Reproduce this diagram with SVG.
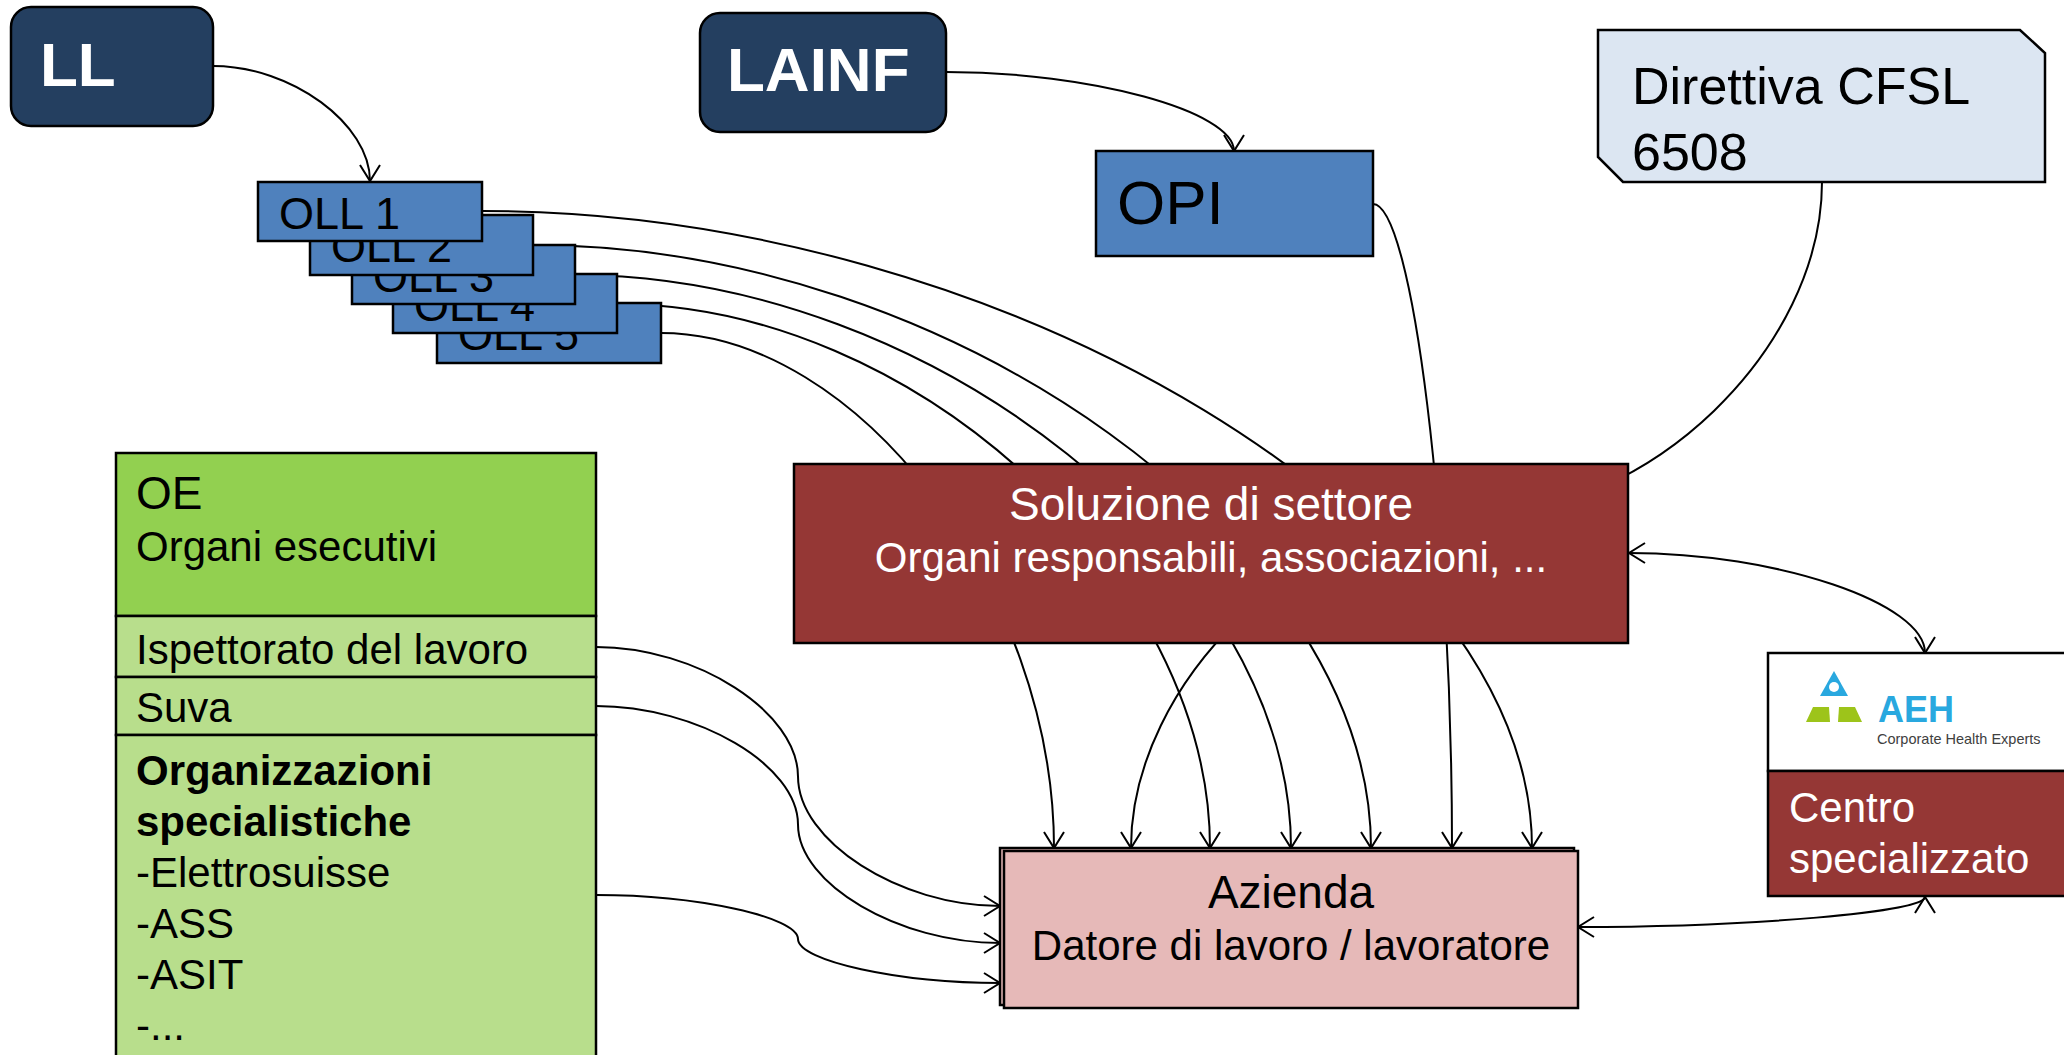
<svg xmlns="http://www.w3.org/2000/svg" width="2064" height="1055" viewBox="0 0 2064 1055">
<style>
text{font-family:"Liberation Sans",Arial,sans-serif}
.b{stroke:#000;stroke-width:2.5}
.c{fill:none;stroke:#000;stroke-width:2}
.navy{fill:#243F60}
.blue{fill:#4F81BD}
.red{fill:#953735}
.w{fill:#fff}
.k{fill:#000}
</style>
<defs>
<marker id="arr" markerUnits="userSpaceOnUse" markerWidth="20" markerHeight="24" viewBox="0 0 20 24" refX="18" refY="12" orient="auto-start-reverse">
<path d="M2,2 L18,12 L2,22" fill="none" stroke="#000" stroke-width="2"/>
</marker>
</defs>
<rect width="2064" height="1055" fill="#fff"/>

<g id="connectors">
<path class="c" d="M213,66 C291.5,66 370,124 370,181" marker-end="url(#arr)"/>
<path class="c" d="M946,72 C1090,72 1234,111 1234,151" marker-end="url(#arr)"/>
<path class="c" d="M482,211 C1007,211 1532,529.5 1532,848" marker-end="url(#arr)"/>
<path class="c" d="M533,245 C952,245 1371,546.5 1371,848" marker-end="url(#arr)"/>
<path class="c" d="M575,275 C933,275 1291,561.5 1291,848" marker-end="url(#arr)"/>
<path class="c" d="M617,304 C913.5,304 1210,576 1210,848" marker-end="url(#arr)"/>
<path class="c" d="M661,333 C857.5,333 1054,590.5 1054,848" marker-end="url(#arr)"/>
<path class="c" d="M1373,204 C1412.5,204 1452,526 1452,848" marker-end="url(#arr)"/>
<path class="c" d="M1822,182 C1822,348.5 1649,515 1476.5,515 C1304,515 1131,681.5 1131,848" marker-end="url(#arr)"/>
<path class="c" d="M596,647 C697,647 798,712 798,776.5 C798,841 899,906 1000,906" marker-end="url(#arr)"/>
<path class="c" d="M596,706 C697,706 798,765 798,824.5 C798,884 899,943 1000,943" marker-end="url(#arr)"/>
<path class="c" d="M596,895 C697,895 798,917 798,939 C798,961 899,983 1000,983" marker-end="url(#arr)"/>
<path class="c" d="M1629,553 C1777,553 1925,603 1925,653" marker-start="url(#arr)" marker-end="url(#arr)"/>
<path class="c" d="M1578,927 C1751,927 1925,912 1925,897" marker-start="url(#arr)" marker-end="url(#arr)"/>
</g>

<g id="LL">
<rect class="b navy" x="11" y="7" width="202" height="119" rx="20"/>
<text x="40" y="86" font-size="62" font-weight="bold" class="w">LL</text>
</g>
<g id="LAINF">
<rect class="b navy" x="700" y="13" width="246" height="119" rx="20"/>
<text x="727" y="91" font-size="62" font-weight="bold" class="w">LAINF</text>
</g>
<g id="OPI">
<rect class="b blue" x="1096" y="151" width="277" height="105"/>
<text x="1117" y="224" font-size="62" class="k">OPI</text>
</g>
<g id="OLL5">
<rect class="b blue" x="437" y="303" width="224" height="60"/>
<text x="458" y="350" font-size="45" class="k">OLL 5</text>
</g>
<g id="OLL4">
<rect class="b blue" x="393" y="274" width="224" height="59"/>
<text x="414" y="321" font-size="45" class="k">OLL 4</text>
</g>
<g id="OLL3">
<rect class="b blue" x="352" y="245" width="223" height="59"/>
<text x="373" y="292" font-size="45" class="k">OLL 3</text>
</g>
<g id="OLL2">
<rect class="b blue" x="310" y="215" width="223" height="60"/>
<text x="331" y="262" font-size="45" class="k">OLL 2</text>
</g>
<g id="OLL1">
<rect class="b blue" x="258" y="182" width="224" height="59"/>
<text x="279" y="229" font-size="45" class="k">OLL 1</text>
</g>
<g id="Direttiva">
<polygon class="b" fill="#DCE6F2" points="1598,30 2020,30 2045,53 2045,182 1623,182 1598,157"/>
<text x="1632" y="104" font-size="52" class="k">Direttiva CFSL</text>
<text x="1632" y="170" font-size="52" class="k">6508</text>
</g>
<g id="Soluzione">
<rect class="b red" x="794" y="464" width="834" height="179"/>
<text x="1211" y="520" font-size="46" class="w" text-anchor="middle">Soluzione di settore</text>
<text x="1211" y="572" font-size="42" class="w" text-anchor="middle">Organi responsabili, associazioni, ...</text>
</g>
<g id="OE">
<rect class="b" fill="#92D050" x="116" y="453" width="480" height="163"/>
<rect class="b" fill="#B8DE8C" x="116" y="616" width="480" height="61"/>
<rect class="b" fill="#B8DE8C" x="116" y="677" width="480" height="58"/>
<rect class="b" fill="#B8DE8C" x="116" y="735" width="480" height="330"/>
<text x="136" y="509" font-size="46" class="k">OE</text>
<text x="136" y="561" font-size="42" class="k">Organi esecutivi</text>
<text x="136" y="664" font-size="42" class="k">Ispettorato del lavoro</text>
<text x="136" y="722" font-size="42" class="k">Suva</text>
<text x="136" y="785" font-size="42" font-weight="bold" class="k">Organizzazioni</text>
<text x="136" y="836" font-size="42" font-weight="bold" class="k">specialistiche</text>
<text x="136" y="887" font-size="42" class="k">-Elettrosuisse</text>
<text x="136" y="938" font-size="42" class="k">-ASS</text>
<text x="136" y="989" font-size="42" class="k">-ASIT</text>
<text x="136" y="1040" font-size="42" class="k">-...</text>
</g>
<g id="Azienda">
<rect class="b" fill="#E6B9B8" x="1000" y="848" width="574" height="157"/>
<rect class="b" fill="#E6B9B8" x="1004" y="851" width="574" height="157"/>
<text x="1291" y="908" font-size="46" class="k" text-anchor="middle">Azienda</text>
<text x="1291" y="960" font-size="42" class="k" text-anchor="middle">Datore di lavoro / lavoratore</text>
</g>
<g id="AEH">
<rect class="b" fill="#fff" x="1768" y="653" width="320" height="118"/>
<rect class="b red" x="1768" y="771" width="320" height="125"/>
<polygon fill="#29A8DF" points="1834,671 1848,696 1820,696"/>
<circle cx="1834" cy="687" r="5" fill="#fff"/>
<polygon fill="#9DC41A" points="1813,707 1829,707 1830,722 1806,722"/>
<polygon fill="#9DC41A" points="1839,707 1855,707 1862,722 1838,722"/>
<text x="1878" y="722" font-size="36" font-weight="bold" fill="#29A8DF">AEH</text>
<text x="1877" y="744" font-size="14.5" fill="#404040">Corporate Health Experts</text>
<text x="1789" y="822" font-size="42" class="w">Centro</text>
<text x="1789" y="873" font-size="42" class="w">specializzato</text>
</g>
</svg>
